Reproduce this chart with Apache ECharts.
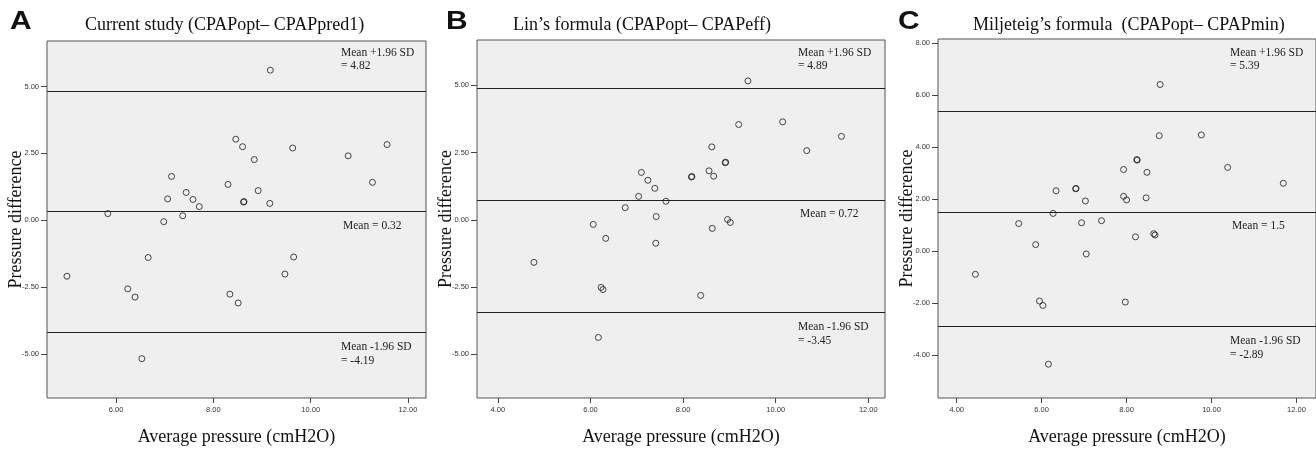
<!DOCTYPE html>
<html>
<head>
<meta charset="utf-8">
<script src="https://cdn.jsdelivr.net/npm/echarts@6/dist/echarts.min.js"></script>
<style>
  html, body { margin: 0; padding: 0; background: #fff; }
  #main { width: 1316px; height: 451px; }
</style>
</head>
<body>
<div id="main"></div>
<script>
// panel A: Current study (CPAPopt - CPAPpred1)
const pointsA = [
  [4.99, -2.09], [5.83, 0.25], [6.24, -2.56], [6.39, -2.87], [6.53, -5.17],
  [6.66, -1.39], [6.98, -0.05], [7.06, 0.80], [7.14, 1.64], [7.37, 0.17],
  [7.44, 1.04], [7.58, 0.78], [7.71, 0.51], [8.30, 1.34], [8.34, -2.76],
  [8.46, 3.03], [8.51, -3.09], [8.60, 2.75], [8.62, 0.68], [8.63, 0.70],
  [8.84, 2.27], [8.92, 1.11], [9.16, 0.63], [9.17, 5.61], [9.47, -2.01],
  [9.63, 2.70], [9.65, -1.37], [10.77, 2.41], [11.27, 1.42], [11.57, 2.83]
];
// panel B: Lin's formula (CPAPopt - CPAPeff)
const pointsB = [
  [4.78, -1.58], [6.06, -0.17], [6.17, -4.37], [6.23, -2.51], [6.27, -2.59],
  [6.33, -0.69], [6.75, 0.45], [7.04, 0.87], [7.10, 1.76], [7.24, 1.47],
  [7.39, 1.17], [7.42, 0.12], [7.41, -0.87], [7.63, 0.69], [8.18, 1.59],
  [8.19, 1.61], [8.38, -2.81], [8.56, 1.82], [8.62, 2.71], [8.63, -0.32],
  [8.66, 1.62], [8.91, 2.12], [8.92, 2.14], [8.96, 0.01], [9.02, -0.10],
  [9.20, 3.54], [9.40, 5.16], [10.15, 3.64], [10.67, 2.57], [11.42, 3.10]
];
// panel C: Miljeteig's formula (CPAPopt - CPAPmin)
const pointsC = [
  [4.44, -0.89], [5.46, 1.06], [5.86, 0.25], [5.95, -1.92], [6.03, -2.09],
  [6.16, -4.35], [6.27, 1.45], [6.34, 2.32], [6.80, 2.40], [6.81, 2.41],
  [6.94, 1.09], [7.03, 1.93], [7.05, -0.11], [7.41, 1.17], [7.93, 3.14],
  [7.93, 2.11], [7.97, -1.96], [8.00, 1.97], [8.21, 0.55], [8.24, 3.52],
  [8.25, 3.50], [8.46, 2.05], [8.48, 3.03], [8.64, 0.67], [8.67, 0.62],
  [8.77, 4.44], [8.79, 6.41], [9.76, 4.47], [10.38, 3.22], [11.69, 2.61]
];
// [upper limit, mean, lower limit]
const limitsA = [4.82, 0.32, -4.19];
const limitsB = [4.89, 0.72, -3.45];
const limitsC = [5.39, 1.5, -2.89];

const titles = [
  'Current study (CPAPopt\u2013 CPAPpred1)',
  'Lin\u2019s formula (CPAPopt\u2013 CPAPeff)',
  'Miljeteig\u2019s formula  (CPAPopt\u2013 CPAPmin)'
];
const letters = ['A', 'B', 'C'];

const xTicksA = [6, 8, 10, 12];
const xTicksBC = [4, 6, 8, 10, 12];
const yTicksAB = [-5, -2.5, 0, 2.5, 5];
const yTicksC = [-4, -2, 0, 2, 4, 6, 8];

const serif = '"Liberation Serif", "DejaVu Serif", serif';
const sans = '"Liberation Sans", Arial, sans-serif';

// pixel layout of the three plot boxes
const boxes = [
  { left: 47, top: 41, width: 379, height: 358, xMin: 4.58, xMax: 12.37, yMin: -6.64, yMax: 6.70 },
  { left: 477, top: 40, width: 408, height: 362, xMin: 3.55, xMax: 12.36, yMin: -6.62, yMax: 6.68 },
  { left: 938, top: 39, width: 381, height: 363, xMin: 3.56, xMax: 12.46, yMin: -5.65, yMax: 8.16 }
];
const panels = [
  { pts: pointsA, lim: limitsA, xt: xTicksA, yt: yTicksAB },
  { pts: pointsB, lim: limitsB, xt: xTicksBC, yt: yTicksAB },
  { pts: pointsC, lim: limitsC, xt: xTicksBC, yt: yTicksC }
];

const chart = echarts.init(document.getElementById('main'));

const grid = [], xAxis = [], yAxis = [], series = [];
panels.forEach(function (p, i) {
  const b = boxes[i];
  grid.push({
    left: b.left, top: b.top, width: b.width, height: b.height,
    show: true, backgroundColor: '#efefef', borderColor: '#555', borderWidth: 1
  });
  xAxis.push({
    gridIndex: i, type: 'value', min: b.xMin, max: b.xMax, position: 'bottom',
    name: 'Average pressure (cmH2O)', nameLocation: 'middle', nameGap: 30,
    nameMoveOverlap: false,
    nameTextStyle: { fontFamily: serif, fontSize: 18, color: '#111' },
    axisLine: { show: false, onZero: false },
    axisTick: { show: true, length: 5, customValues: p.xt, lineStyle: { color: '#444' } },
    axisLabel: {
      customValues: p.xt, margin: 8, fontFamily: sans, fontSize: 7.5, color: '#333',
      formatter: function (v) { return v.toFixed(2); }
    },
    splitLine: { show: false }
  });
  yAxis.push({
    gridIndex: i, type: 'value', min: b.yMin, max: b.yMax, position: 'left',
    name: 'Pressure difference', nameLocation: 'middle', nameGap: 22,
    nameMoveOverlap: false,
    nameTextStyle: { fontFamily: serif, fontSize: 18, color: '#111' },
    axisLine: { show: false, onZero: false },
    axisTick: { show: true, length: 6, customValues: p.yt, lineStyle: { color: '#444' } },
    axisLabel: {
      customValues: p.yt, margin: 8, fontFamily: sans, fontSize: 7.5, color: '#333',
      formatter: function (v) { return v.toFixed(2); }
    },
    splitLine: { show: false }
  });
  series.push({
    type: 'scatter', xAxisIndex: i, yAxisIndex: i,
    data: p.pts, symbol: 'circle', symbolSize: 6,
    itemStyle: { color: 'rgba(0,0,0,0)', borderColor: '#1a1a1a', borderWidth: 1 },
    markLine: {
      silent: true, symbol: 'none', animation: false,
      label: { show: false },
      lineStyle: { color: '#222', width: 1, type: 'solid' },
      data: p.lim.map(function (v) { return { yAxis: v }; })
    }
  });
});

chart.setOption({
  animation: false,
  grid: grid, xAxis: xAxis, yAxis: yAxis, series: series
});

// titles, panel letters and limit annotations
const graphic = [];
const titleX = [85, 513, 973];
const letterX = [10, 446, 898];
const noteX = [341, 798, 1230];
panels.forEach(function (p, i) {
  graphic.push({
    type: 'text', x: letterX[i], y: 22, scaleX: 1.15,
    style: { text: letters[i], font: 'bold 26px ' + sans, fill: '#111', verticalAlign: 'middle' }
  });
  graphic.push({
    type: 'text', x: titleX[i], y: 25,
    style: { text: titles[i], font: '18px ' + serif, fill: '#111', verticalAlign: 'middle' }
  });
  const fmt = function (v) { return String(v); };
  graphic.push({
    type: 'text', x: noteX[i], y: 46,
    style: { text: 'Mean +1.96 SD\n= ' + fmt(p.lim[0]), font: '11.5px ' + serif, fill: '#222', lineHeight: 13.5 }
  });
  const yMean = chart.convertToPixel({ gridIndex: i }, [boxes[i].xMin, p.lim[1]])[1];
  graphic.push({
    type: 'text', x: noteX[i] + 2, y: yMean + 7,
    style: { text: 'Mean = ' + fmt(p.lim[1]), font: '11.5px ' + serif, fill: '#222', lineHeight: 13.5 }
  });
  const yLow = chart.convertToPixel({ gridIndex: i }, [boxes[i].xMin, p.lim[2]])[1];
  graphic.push({
    type: 'text', x: noteX[i], y: yLow + 8,
    style: { text: 'Mean -1.96 SD\n= ' + fmt(p.lim[2]), font: '11.5px ' + serif, fill: '#222', lineHeight: 13.5 }
  });
});
chart.setOption({ graphic: graphic });
</script>
</body>
</html>
